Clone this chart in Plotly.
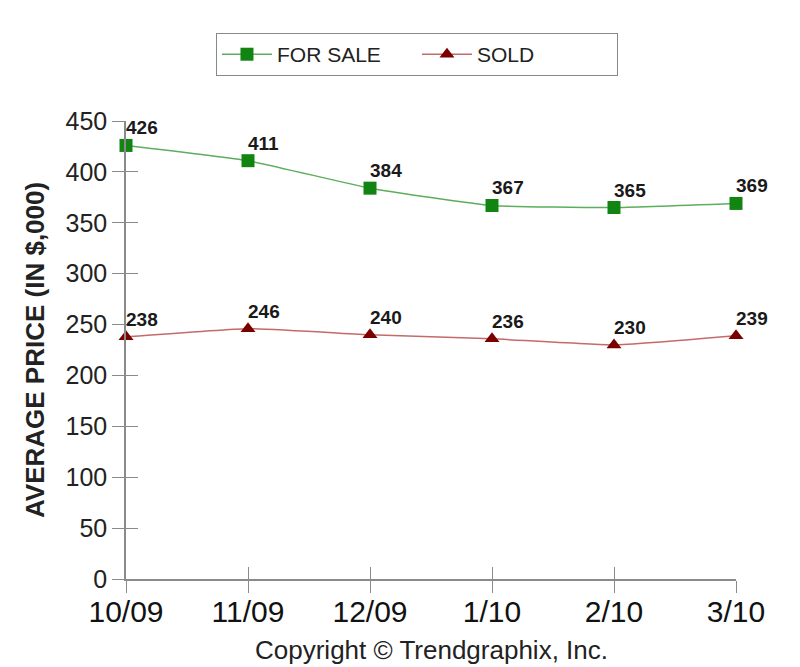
import plotly.graph_objects as go

# Dados
meses = ['10/09', '11/09', '12/09', '1/10', '2/10', '3/10']
for_sale = [426, 411, 384, 367, 365, 369]
sold = [238, 246, 240, 236, 230, 239]
y_ticks = [0, 50, 100, 150, 200, 250, 300, 350, 400, 450]

fonte = 'Liberation Sans, Arial, sans-serif'

fig = go.Figure()

fig.add_trace(go.Scatter(
    x=meses, y=for_sale, name='FOR SALE', mode='lines+markers',
    line=dict(color='#5cae5c', width=1.5, shape='spline', smoothing=0.4),
    marker=dict(symbol='square', size=13, color='#128412'),
    cliponaxis=False,
))

fig.add_trace(go.Scatter(
    x=meses, y=sold, name='SOLD', mode='lines+markers',
    line=dict(color='#c46a6a', width=1.5, shape='spline', smoothing=0.4),
    marker=dict(symbol='triangle-up', size=13, color='#7a0000'),
    cliponaxis=False,
))

# Rotulos de valor
for serie in (for_sale, sold):
    for m, v in zip(meses, serie):
        fig.add_annotation(x=m, y=v, text='<b>%d</b>' % v, showarrow=False,
                           xanchor='left', yanchor='bottom', xshift=-2, yshift=5,
                           font=dict(family=fonte, size=19, color='#1a1a1a'))

# Eixo invisivel so para desenhar as marcas do lado de dentro
fig.add_trace(go.Scatter(x=meses, y=sold, xaxis='x2', yaxis='y2',
                         mode='markers', marker=dict(opacity=0),
                         showlegend=False, hoverinfo='skip'))

fig.update_layout(
    width=800, height=667,
    paper_bgcolor='white', plot_bgcolor='white',
    margin=dict(l=118, r=72, t=113, b=96, autoexpand=False),
    font=dict(family=fonte, color='#222222'),
    showlegend=True,
    legend=dict(orientation='h', x=0.477, xanchor='center', y=1.192, yanchor='top',
                bordercolor='#888888', borderwidth=1, bgcolor='white',
                font=dict(size=21, color='#222222'), itemwidth=50,
                entrywidth=135, entrywidthmode='pixels'),
    xaxis=dict(
        range=[0, 5], showgrid=False, zeroline=False, automargin=False,
        showline=True, linecolor='#8a8a8a', linewidth=1.5,
        ticks='outside', ticklen=12, tickcolor='#8a8a8a', tickwidth=1,
        tickfont=dict(size=30, color='#111111'), ticklabelstandoff=-7,
    ),
    yaxis=dict(
        range=[0, 450], tickvals=y_ticks, showgrid=False, zeroline=False, automargin=False,
        showline=True, linecolor='#8a8a8a', linewidth=1.5,
        ticks='outside', ticklen=12, tickcolor='#8a8a8a', tickwidth=1,
        tickfont=dict(size=25, color='#222222'),
    ),
    xaxis2=dict(overlaying='x', range=[0, 5], showgrid=False, zeroline=False,
                showticklabels=False, ticks='inside', ticklen=12, tickcolor='#8a8a8a',
                tickvals=[0, 1, 2, 3, 4, 5], side='bottom', anchor='y2'),
    yaxis2=dict(overlaying='y', range=[0, 450], showgrid=False, zeroline=False,
                showticklabels=False, ticks='inside', ticklen=12, tickcolor='#8a8a8a',
                tickvals=y_ticks, side='left', anchor='x2'),
)

# Titulo do eixo y
fig.add_annotation(text='<b>AVERAGE PRICE (IN $,000)</b>', xref='paper', yref='paper',
                   x=0, y=0.5, xshift=-91, textangle=-90, showarrow=False,
                   xanchor='center', yanchor='middle',
                   font=dict(size=26, color='#222222'))

fig.add_annotation(text='Copyright © Trendgraphix, Inc.', xref='paper', yref='paper',
                   x=0.5, y=-0.155, xanchor='center', yanchor='middle', showarrow=False,
                   font=dict(size=26, color='#222222'))

fig.write_html('out.html')
